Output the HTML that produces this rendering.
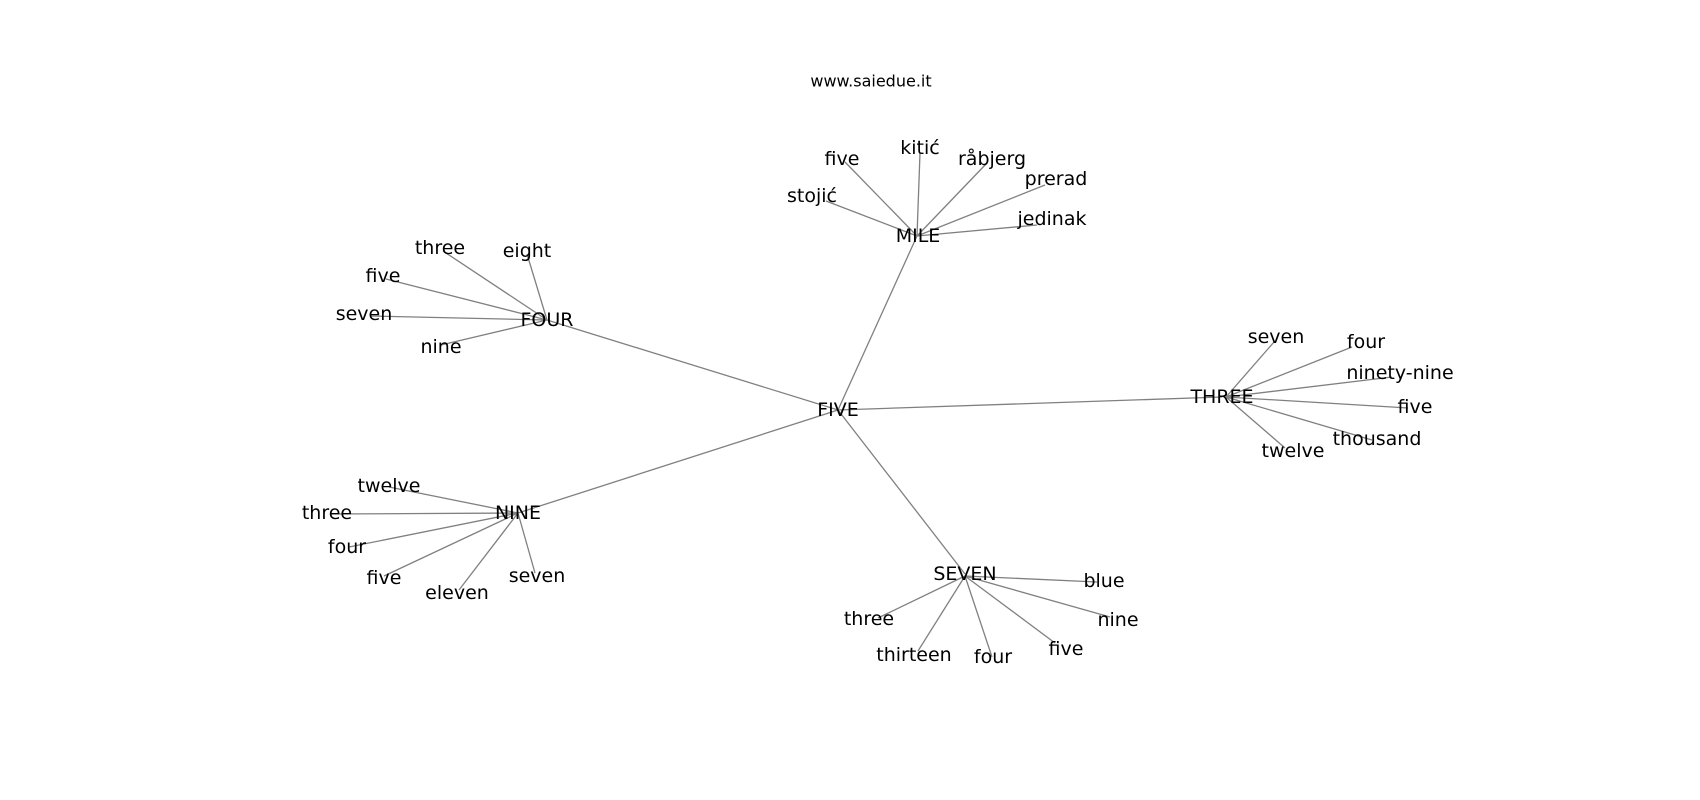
<!DOCTYPE html>
<html><head><meta charset="utf-8"><style>
html,body{margin:0;padding:0;background:#fff;}
svg{display:block;}
text{font-family:"DejaVu Sans","Liberation Sans",sans-serif;font-size:19px;fill:#000;text-anchor:middle;dominant-baseline:central;}
line{stroke:#808080;stroke-width:1.3;}
</style></head><body>
<svg width="1700" height="800" viewBox="0 0 1700 800">
<text x="871" y="81" style="font-size:16px">www.saiedue.it</text>
<g>
<line x1="838" y1="410" x2="917" y2="236"/>
<line x1="838" y1="410" x2="547" y2="320"/>
<line x1="838" y1="410" x2="1222" y2="397"/>
<line x1="838" y1="410" x2="518" y2="513"/>
<line x1="838" y1="410" x2="965" y2="574"/>
<!-- MILE -->
<line x1="917" y1="236" x2="845" y2="162"/>
<line x1="917" y1="236" x2="920" y2="153"/>
<line x1="917" y1="236" x2="987" y2="163"/>
<line x1="917" y1="236" x2="1045" y2="185"/>
<line x1="917" y1="236" x2="1037" y2="225"/>
<line x1="917" y1="236" x2="826" y2="201"/>
<!-- FOUR -->
<line x1="547" y1="320" x2="443" y2="251"/>
<line x1="547" y1="320" x2="527" y2="254"/>
<line x1="547" y1="320" x2="386" y2="279"/>
<line x1="547" y1="320" x2="370" y2="316"/>
<line x1="547" y1="320" x2="441" y2="345"/>
<!-- THREE -->
<line x1="1226" y1="397" x2="1274" y2="342"/>
<line x1="1226" y1="397" x2="1352" y2="347"/>
<line x1="1226" y1="397" x2="1392" y2="377"/>
<line x1="1226" y1="397" x2="1408" y2="408"/>
<line x1="1226" y1="397" x2="1372" y2="440"/>
<line x1="1226" y1="397" x2="1285" y2="448"/>
<!-- NINE -->
<line x1="518" y1="513" x2="389" y2="487"/>
<line x1="518" y1="513" x2="330" y2="514"/>
<line x1="518" y1="513" x2="349" y2="547"/>
<line x1="518" y1="513" x2="384" y2="576"/>
<line x1="518" y1="513" x2="459" y2="590"/>
<line x1="518" y1="513" x2="535" y2="573"/>
<!-- SEVEN -->
<line x1="965" y1="576" x2="1097" y2="582"/>
<line x1="965" y1="576" x2="1110" y2="617"/>
<line x1="965" y1="576" x2="1055" y2="643"/>
<line x1="965" y1="576" x2="992" y2="657"/>
<line x1="965" y1="576" x2="918" y2="651"/>
<line x1="965" y1="576" x2="878" y2="618"/>
</g>
<g>
<text x="838" y="410">FIVE</text>
<text x="918" y="236">MILE</text>
<text x="547" y="320">FOUR</text>
<text x="1222" y="397">THREE</text>
<text x="518" y="513">NINE</text>
<text x="965" y="574">SEVEN</text>

<text x="842" y="159">five</text>
<text x="920" y="148">kitić</text>
<text x="992" y="159">råbjerg</text>
<text x="1056" y="179">prerad</text>
<text x="1052" y="219">jedinak</text>
<text x="812" y="196">stojić</text>

<text x="440" y="248">three</text>
<text x="527" y="251">eight</text>
<text x="383" y="276">five</text>
<text x="364" y="314">seven</text>
<text x="441" y="347">nine</text>

<text x="1276" y="337">seven</text>
<text x="1366" y="342">four</text>
<text x="1400" y="373">ninety-nine</text>
<text x="1415" y="407">five</text>
<text x="1377" y="439">thousand</text>
<text x="1293" y="451">twelve</text>

<text x="389" y="486">twelve</text>
<text x="327" y="513">three</text>
<text x="347" y="547">four</text>
<text x="384" y="578">five</text>
<text x="457" y="593">eleven</text>
<text x="537" y="576">seven</text>

<text x="1104" y="581">blue</text>
<text x="1118" y="620">nine</text>
<text x="1066" y="649">five</text>
<text x="993" y="657">four</text>
<text x="914" y="655">thirteen</text>
<text x="869" y="619">three</text>
</g>
</svg>
</body></html>
